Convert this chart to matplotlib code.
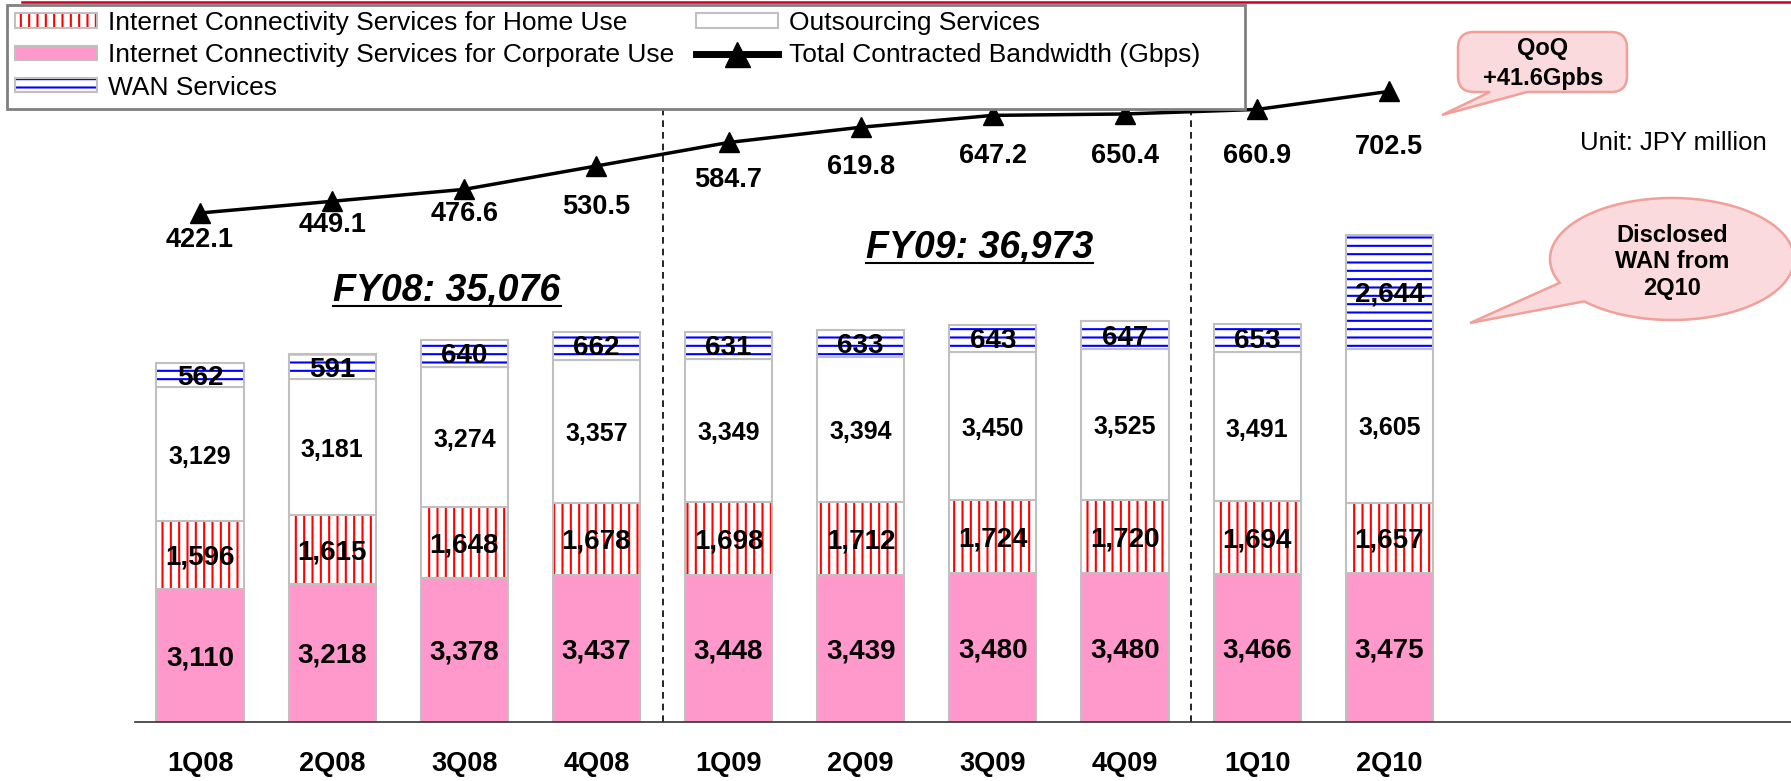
import numpy as np
import matplotlib
matplotlib.use('Agg')
import matplotlib.pyplot as plt
from matplotlib.patches import Patch, PathPatch, Rectangle
from matplotlib.lines import Line2D
from matplotlib.path import Path

plt.rcParams['font.family'] = ['Liberation Sans', 'DejaVu Sans']
plt.rcParams['hatch.linewidth'] = 1.5

# data (JPY million / Gbps)
quarters = ['1Q08', '2Q08', '3Q08', '4Q08', '1Q09', '2Q09', '3Q09', '4Q09', '1Q10', '2Q10']
corporate = [3110, 3218, 3378, 3437, 3448, 3439, 3480, 3480, 3466, 3475]
home = [1596, 1615, 1648, 1678, 1698, 1712, 1724, 1720, 1694, 1657]
outsourcing = [3129, 3181, 3274, 3357, 3349, 3394, 3450, 3525, 3491, 3605]
wan = [562, 591, 640, 662, 631, 633, 643, 647, 653, 2644]
bandwidth = [422.1, 449.1, 476.6, 530.5, 584.7, 619.8, 647.2, 650.4, 660.9, 702.5]

# label offsets below triangles (points)
bw_label_off = [19.4, 17, 17.7, 29.5, 27, 28.6, 29.2, 30.6, 33.8, 40]

W, H = 1791, 781
fig = plt.figure(figsize=(W / 100, H / 100), dpi=100)


def px(x, y):
    return (x / W, 1 - y / H)


ax = fig.add_axes([135 / W, 59 / H, 1 - 135 / W, 722 / H])
ax.set_xlim(-0.492, 12.04)
ax.set_ylim(0, 16890)
for s in ['top', 'right', 'left']:
    ax.spines[s].set_visible(False)
ax.spines['bottom'].set_color('#333333')
ax.spines['bottom'].set_linewidth(1.2)
ax.set_yticks([])

x = np.arange(len(quarters))
ax.set_xticks(x)
ax.set_xticklabels(quarters, fontsize=19.5, fontweight='bold')
ax.tick_params(axis='x', length=0, pad=21)

edge = '#c0c0c0'
layers = [
    (corporate, '#ff99cc', None, None, 20),
    (home, 'white', 'red', '||', 20),
    (outsourcing, 'white', None, None, 18),
    (wan, 'white', 'blue', '--', 20),
]
bottom = np.zeros(len(x))
for vals, face, hcol, hatch, fs in layers:
    vals = np.array(vals)
    if hatch:
        ax.bar(x, vals, 0.66, bottom=bottom, color=face, edgecolor=hcol,
               hatch=hatch, linewidth=0, zorder=2)
        ax.bar(x, vals, 0.66, bottom=bottom, fill=False, edgecolor=edge,
               linewidth=1.5, zorder=2)
    else:
        ax.bar(x, vals, 0.66, bottom=bottom, color=face, edgecolor=edge,
               linewidth=1.5, zorder=2)
    for xi, b, v in zip(x, bottom, vals):
        ax.annotate(f'{v:,}', (xi, b + v / 2), xytext=(0, -2), textcoords='offset points',
                    ha='center', va='center', fontsize=fs, fontweight='bold', zorder=3)
    bottom = bottom + vals

# fiscal year dividers
for i in range(1, len(quarters)):
    if quarters[i][-2:] != quarters[i - 1][-2:]:
        ax.axvline(i - 0.5, ymin=0, ymax=614 / 722, color='black', lw=1.2,
                   linestyle=(0, (4, 3)), zorder=1)

# fiscal year totals
fy_pos = {'08': (1.87, 10082), '09': (5.90, 11088)}
fy_texts = []
for yy, (fx, fy) in fy_pos.items():
    total = int(bottom[[q.endswith(yy) for q in quarters]].sum())
    t = ax.text(fx, fy, f'FY{yy}: {total:,}', ha='center', va='center',
                fontsize=27, fontweight='bold', fontstyle='italic')
    fy_texts.append(t)

# bandwidth line
ax2 = ax.twinx()
ax2.set_ylim(-751.5, 913.2)
ax2.axis('off')
ax2.plot(x, bandwidth, color='black', lw=2.5, marker='^', ms=14, zorder=4)
for xi, v, off in zip(x, bandwidth, bw_label_off):
    ax2.annotate(f'{v:.1f}', (xi, v), xytext=(0, -off), textcoords='offset points',
                 ha='center', va='center', fontsize=19.5, fontweight='bold')

# legend (own frame, the original box is wider than its contents)
fig.add_artist(Rectangle(px(7, 109), 1238 / W, 104 / H, facecolor='white',
                         edgecolor='#808080', lw=2, transform=fig.transFigure, zorder=4))
border = Patch(fill=False, edgecolor=edge, lw=1.5)
handles = [
    (Patch(facecolor='white', edgecolor='red', hatch='||', lw=0), border),
    Patch(facecolor='#ff99cc', edgecolor=edge, lw=1.5),
    (Patch(facecolor='white', edgecolor='blue', hatch='--', lw=0), border),
    Patch(facecolor='white', edgecolor=edge, lw=1.5),
    Line2D([], [], color='black', lw=5, marker='^', ms=18),
]
labels = ['Internet Connectivity Services for Home Use',
          'Internet Connectivity Services for Corporate Use',
          'WAN Services',
          'Outsourcing Services',
          'Total Contracted Bandwidth (Gbps)']
leg = fig.legend(handles, labels, loc='upper left', bbox_to_anchor=px(7, 3), ncol=2,
                 fontsize=19, frameon=False, handlelength=3.1, handleheight=0.45,
                 handletextpad=0.42, columnspacing=0.85, labelspacing=0.32,
                 borderpad=0.3, borderaxespad=0)

fig.text(*px(1580, 143), 'Unit: JPY million', fontsize=18.5, ha='left', va='center')

# red rule on top
fig.add_artist(Line2D([22 / W, 1], [1 - 1.5 / H] * 2, color='#cc0020', lw=1.8))

# callouts
bub_face, bub_edge = '#fadadd', '#f0a098'
x0, x1, y0, y1, r = 1458, 1627, 32, 92, 16
pts = [(x0 + r, y0), (x1 - r, y0), (x1, y0), (x1, y0 + r), (x1, y1 - r), (x1, y1),
       (x1 - r, y1), (1527, y1), (1442, 115), (1490, y1), (x0 + r, y1), (x0, y1),
       (x0, y1 - r), (x0, y0 + r), (x0, y0), (x0 + r, y0)]
codes = [Path.MOVETO, Path.LINETO, Path.CURVE3, Path.CURVE3, Path.LINETO, Path.CURVE3,
         Path.CURVE3, Path.LINETO, Path.LINETO, Path.LINETO, Path.LINETO, Path.CURVE3,
         Path.CURVE3, Path.LINETO, Path.CURVE3, Path.CURVE3]
pts = [px(a, b) for a, b in pts]
pts.append(pts[0])
codes.append(Path.CLOSEPOLY)
fig.add_artist(PathPatch(Path(pts, codes), facecolor=bub_face, edgecolor=bub_edge,
                         lw=1.8, transform=fig.transFigure))
fig.text(*px(1543, 48), 'QoQ', fontsize=17, fontweight='bold', ha='center', va='center')
fig.text(*px(1543, 78), f'+{bandwidth[-1] - bandwidth[-2]:.1f}Gpbs', fontsize=17,
         fontweight='bold', ha='center', va='center')

cx, cy, a, b = 1672, 259, 122, 61
t = np.radians(np.linspace(157, 496, 200))
epts = [px(cx + a * np.cos(tt), cy + b * np.sin(tt)) for tt in t]
epts.append(px(1470, 323))
epts.append(epts[0])
ecodes = [Path.MOVETO] + [Path.LINETO] * (len(epts) - 2) + [Path.CLOSEPOLY]
fig.add_artist(PathPatch(Path(epts, ecodes), facecolor=bub_face, edgecolor=bub_edge,
                         lw=1.8, transform=fig.transFigure))
fig.text(*px(1672, 262), 'Disclosed\nWAN from\n2Q10', fontsize=17, fontweight='bold',
         ha='center', va='center', linespacing=1.2)

# underline the FY totals
fig.canvas.draw()
rend = fig.canvas.get_renderer()
for t in fy_texts:
    bb = t.get_window_extent(rend)
    fig.add_artist(Line2D([bb.x0 / W, bb.x1 / W], [(bb.y0 + 3) / H] * 2,
                          color='black', lw=1.5))

fig.savefig('out.png', dpi=100)
